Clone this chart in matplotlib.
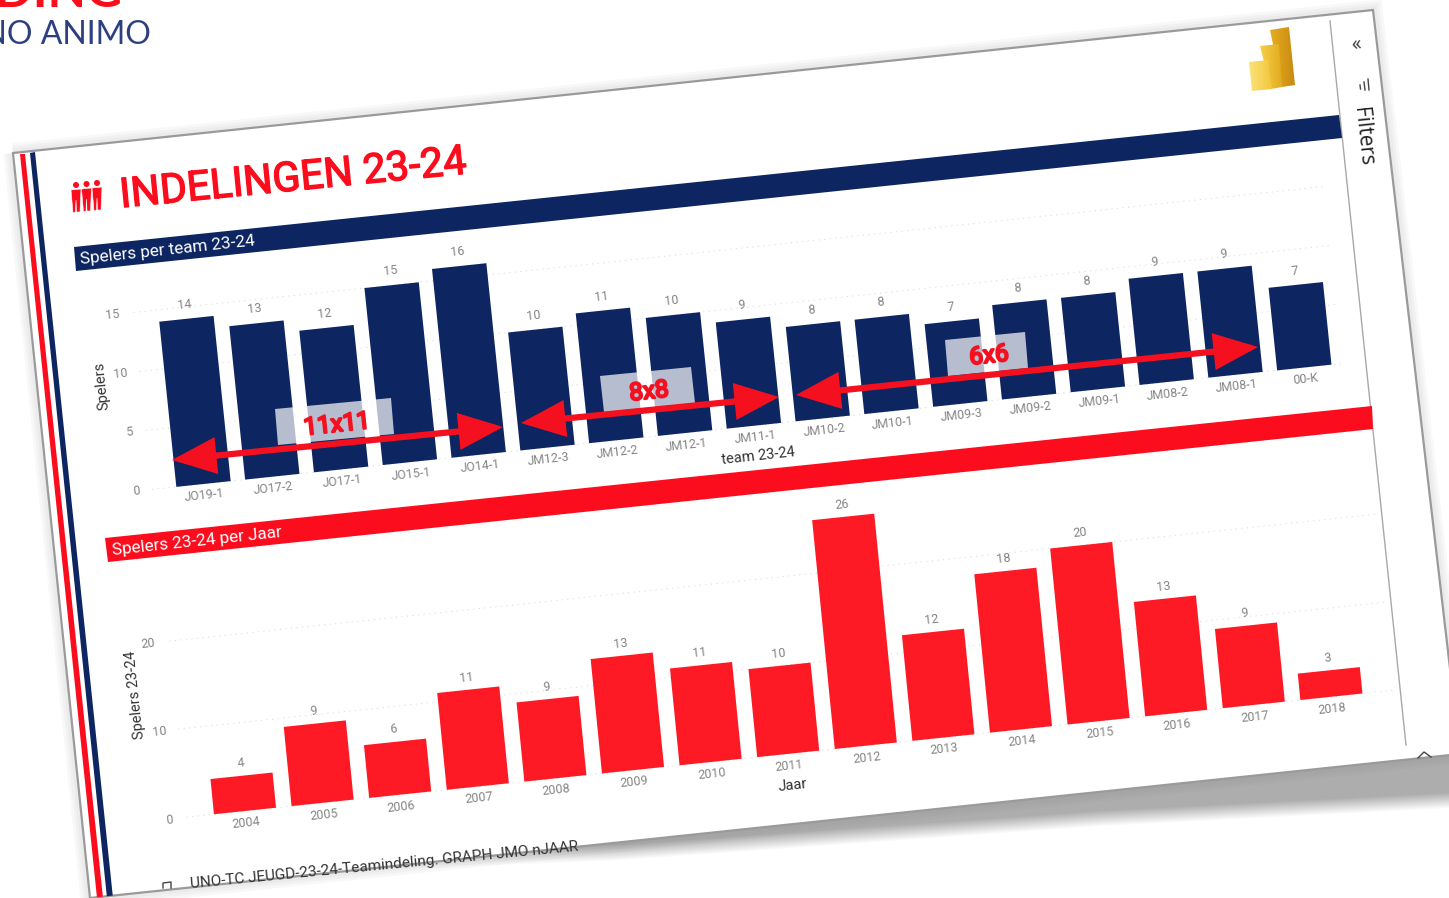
import matplotlib
matplotlib.use('Agg')
import matplotlib.pyplot as plt
import matplotlib.patheffects as pe
import numpy as np
from matplotlib.patches import Polygon, Circle, FancyArrowPatch
from matplotlib.transforms import Affine2D

plt.rcParams['font.family'] = ['Roboto', 'DejaVu Sans']

# data
teams = ['JO19-1', 'JO17-2', 'JO17-1', 'JO15-1', 'JO14-1', 'JM12-3', 'JM12-2', 'JM12-1', 'JM11-1',
         'JM10-2', 'JM10-1', 'JM09-3', 'JM09-2', 'JM09-1', 'JM08-2', 'JM08-1', '00-K']
team_players = [14, 13, 12, 15, 16, 10, 11, 10, 9, 8, 8, 7, 8, 8, 9, 9, 7]
team_ticks = [0, 5, 10, 15]
years = ['2004', '2005', '2006', '2007', '2008', '2009', '2010', '2011', '2012', '2013', '2014',
         '2015', '2016', '2017', '2018']
year_players = [4, 9, 6, 11, 9, 13, 11, 10, 26, 12, 18, 20, 13, 9, 3]
year_ticks = [0, 10, 20]

NAVY = '#0d2561'
RED = '#fb0d1e'
BAR_RED = '#fd1a25'
GREY = '#858585'
ANGLE = 6.1

fig = plt.figure(figsize=(14.49, 8.98), dpi=100)
ax = fig.add_axes([0, 0, 1, 1])
ax.set_xlim(0, 1449)
ax.set_ylim(898, 0)
ax.autoscale(False)
ax.axis('off')

# shadow under the tilted page
yy, xx = np.mgrid[0:898, 0:1449]
shadow_edge = np.interp(xx, [300, 380, 620, 1100, 1449], [868, 870, 860, 826, 808])
below_page = yy > 888 - 0.1048 * (xx - 90)
rgba = np.zeros((898, 1449, 4))
rgba[..., :3] = 0.68
rgba[..., 3] = np.clip((shadow_edge - yy) / 16, 0, 1) * np.clip((xx - 250) / 350, 0, 1) * below_page
ax.imshow(rgba, extent=(0, 1449, 898, 0), aspect='auto', zorder=0.5)

# page
page_xy = [(13, 153), (1373, 10), (1460, 754), (90, 898)]
for lw in [14, 10, 6]:
    ax.add_patch(Polygon(page_xy, closed=True, fc='none', ec='#808080', lw=lw, alpha=0.05, zorder=0.6))
page = Polygon(page_xy, closed=True, fc='white', ec='#9a9a9a', lw=1.6, zorder=1)
ax.add_patch(page)

# stripes on the left
for pts, col in [([(20, 154), (25, 154), (103, 898), (97, 898)], RED),
                 ([(30, 153), (35, 152), (113, 898), (107, 898)], NAVY)]:
    stripe = Polygon(pts, closed=True, fc=col, ec='none', zorder=1.5)
    ax.add_patch(stripe)
    stripe.set_clip_path(page)

# header bands
ax.add_patch(Polygon([(74, 247), (1339, 115), (1342, 138), (76, 271)], closed=True, fc=NAVY, ec='none', zorder=2))
ax.add_patch(Polygon([(105, 538), (1372, 406), (1373, 429), (108, 562)], closed=True, fc=RED, ec='none', zorder=2))
ax.text(168, 250, 'Spelers per team 23-24', color='white', fontsize=12.3, rotation=ANGLE,
        rotation_mode='anchor', ha='center', va='center', zorder=3)
ax.text(197, 541, 'Spelers 23-24 per Jaar', color='white', fontsize=12.3, rotation=ANGLE,
        rotation_mode='anchor', ha='center', va='center', zorder=3)

# title and icon
ax.text(293, 179, 'INDELINGEN 23-24', color=RED, fontsize=29.6, rotation=5.6, rotation_mode='anchor', ha='center',
        va='center', zorder=3, path_effects=[pe.withStroke(linewidth=1.0, foreground=RED)])
for hx, hy in [(76, 185), (86.5, 184), (97, 183)]:
    ax.add_patch(Circle((hx, hy), 3, fc=RED, ec='none', zorder=3))
    ax.add_patch(Polygon([(hx - 5, hy + 5), (hx + 5, hy + 4), (hx + 4, hy + 27), (hx + 0.5, hy + 27), (hx, hy + 15),
                          (hx - 0.5, hy + 27), (hx - 3, hy + 28)], closed=True, fc=RED, ec='white', lw=0.4, zorder=3))

# top chart, tilted axes
top = Affine2D.from_values(68.8, -7.28, -1.22, -11.8, 203.5, 484) + ax.transData
x1 = np.arange(len(teams))
for t in team_ticks:
    ax.plot([-0.75, 16.55], [t, t], color='#dcdcdc', lw=0.8, ls=(0, (1, 4)), transform=top, zorder=2)
    ax.text(-0.97 - 0.0055 * t, t, str(t), color=GREY, fontsize=9, rotation=ANGLE, rotation_mode='anchor',
            ha='center', va='center', transform=top, zorder=3)
ax.bar(x1, team_players, 0.79, color=NAVY, transform=top, zorder=3)
for i, v in enumerate(team_players):
    ax.text(i, v + 1.2, str(v), color=GREY, fontsize=9, rotation=ANGLE, rotation_mode='anchor', ha='center',
            va='center', transform=top, zorder=3)
    ax.text(i, -1, teams[i], color=GREY, fontsize=9, rotation=ANGLE, rotation_mode='anchor', ha='center',
            va='center', transform=top, zorder=3)
ax.text(758, 456, 'team 23-24', color='#333333', fontsize=10.5, rotation=ANGLE, rotation_mode='anchor', ha='center',
        va='center', zorder=3)
ax.text(102, 386, 'Spelers', color='#333333', fontsize=10.5, rotation=90 + ANGLE, rotation_mode='anchor',
        ha='center', va='center', zorder=3)

# bottom chart, tilted axes
bottom = Affine2D.from_values(77.6, -8.16, -0.87, -8.8, 245, 811) + ax.transData
x2 = np.arange(len(years))
for t in year_ticks:
    ax.plot([-0.75, 14.8], [t, t], color='#dcdcdc', lw=0.8, ls=(0, (1, 4)), transform=bottom, zorder=2)
    ax.text(-0.97 - 0.0025 * t, t - 0.1, str(t), color=GREY, fontsize=9, rotation=ANGLE, rotation_mode='anchor',
            ha='center', va='center', transform=bottom, zorder=3)
ax.bar(x2, year_players, 0.8, color=BAR_RED, transform=bottom, zorder=3)
for i, v in enumerate(year_players):
    ax.text(i, v + 1.4, str(v), color=GREY, fontsize=9, rotation=ANGLE, rotation_mode='anchor', ha='center',
            va='center', transform=bottom, zorder=3)
    ax.text(i, -1.35, years[i], color=GREY, fontsize=9, rotation=ANGLE, rotation_mode='anchor', ha='center',
            va='center', transform=bottom, zorder=3)
ax.text(793, 785, 'Jaar', color='#333333', fontsize=10.5, rotation=ANGLE, rotation_mode='anchor', ha='center',
        va='center', zorder=3)
ax.text(135, 695, 'Spelers 23-24', color='#333333', fontsize=10.5, rotation=90 + ANGLE, rotation_mode='anchor',
        ha='center', va='center', zorder=3)

# translucent boxes, arrows and labels on top of the first chart
for pts in [[(275, 409), (391, 398), (394, 434), (278, 445)],
            [(600, 376), (691, 367), (695, 403), (604, 412)],
            [(945, 340), (1025, 332), (1028, 368), (948, 376)]]:
    ax.add_patch(Polygon(pts, closed=True, fc='white', ec='none', alpha=0.7, zorder=4))
for a, b in [((172, 460), (503, 427)), ((521, 423), (779, 397)), ((796, 395), (1258, 347))]:
    ax.add_patch(FancyArrowPatch(a, b, arrowstyle='<|-|>,head_length=1.2,head_width=0.5', mutation_scale=20,
                                 lw=4.5, color='#f5101f', shrinkA=0, shrinkB=0, joinstyle='miter', zorder=5))
for (tx, ty), s in [((337, 425), '11x11'), ((649, 392), '8x8'), ((989, 356), '6x6')]:
    ax.text(tx, ty, s, color='#f5101f', fontsize=17.5, rotation=ANGLE, rotation_mode='anchor', ha='center',
            va='center', zorder=6, path_effects=[pe.withStroke(linewidth=1.6, foreground='#f5101f')])

# filter pane
ax.plot([1330, 1406], [21, 745], color='#a8a8a8', lw=1, zorder=1.5)
ax.text(1357, 45, '«', color='#444444', fontsize=16, rotation=ANGLE, rotation_mode='anchor', ha='center',
        va='center', zorder=3)
for (x0, y0), (x3, y3) in [((1360, 85), (1360.5, 89)), ((1364, 82), (1365, 90)), ((1368, 79), (1369, 90))]:
    ax.plot([x0, x3], [y0, y3], color='#444444', lw=1, zorder=3)
ax.text(1363, 137, 'Filters', color='#222222', fontsize=15, rotation=-90 + ANGLE, rotation_mode='anchor',
        ha='center', va='center', family='Open Sans', zorder=3)
ax.plot([1418, 1424, 1431], [758, 752, 757], color='#444444', lw=1, zorder=3)

# power bi logo
logo = [([(1270, 30), (1289, 27), (1295, 85), (1282, 87)], '#e6ad20', '#c98a10'),
        ([(1260, 46), (1279, 44), (1282, 87), (1271, 89)], '#f5cf48', '#e3ab1e'),
        ([(1249, 62), (1268, 60), (1272, 89), (1252, 91)], '#fbe27a', '#f2c63c')]
for pts, c0, c1 in logo:
    xs = [p[0] for p in pts]
    ys = [p[1] for p in pts]
    grad = np.linspace(matplotlib.colors.to_rgb(c0), matplotlib.colors.to_rgb(c1), 32)[None, :, :]
    im = ax.imshow(grad, extent=(min(xs), max(xs), max(ys), min(ys)), aspect='auto', zorder=3)
    clip = Polygon(pts, closed=True, transform=ax.transData)
    im.set_clip_path(clip)

# footer, cut off by the page edge
foot = ax.text(190, 884, 'UNO-TC JEUGD-23-24-Teamindeling. GRAPH JMO nJAAR', color='#333333', fontsize=11.1,
               rotation=5.5, rotation_mode='anchor', ha='left', va='center', zorder=3)
foot.set_clip_path(page)
icon = ax.plot([163, 163, 171, 171], [888, 883, 882, 888], color='#444444', lw=1, zorder=3)[0]
icon.set_clip_path(page)

# slide heading top left, only its lower edge is on the picture
ax.text(122, 7, 'OPLEIDING', color='#f90f1c', fontsize=36, fontweight='bold', ha='right', va='baseline',
        family='Lato', zorder=3)
ax.text(151, 35, 'UNO ANIMO', color='#2c4080', fontsize=23, ha='right', va='center', family='Lato', zorder=3)

fig.savefig('out.png', dpi=100)
plt.close(fig)
